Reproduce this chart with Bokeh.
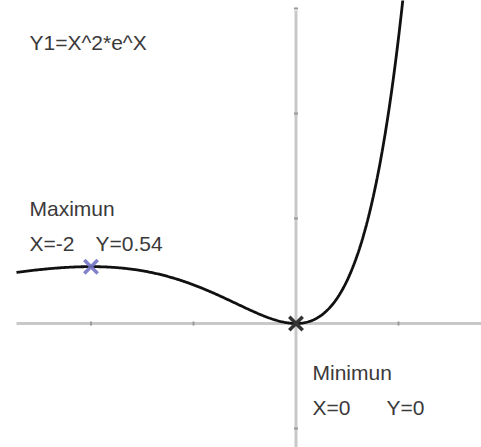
import numpy as np
from bokeh.plotting import figure
from bokeh.models import Range1d
from bokeh.core.properties import value
from bokeh.embed import file_html
from bokeh.resources import INLINE

# Y1 = X^2 * e^X, graphed over the calculator window
x_min, x_max = -2.727, 1.10
curve_x = np.linspace(x_min, x_max, 400)
curve_y = curve_x ** 2 * np.exp(curve_x)

# Extrema found on the graph
max_x, max_y = [-2.0], [0.54]
min_x, min_y = [0.0], [0.0]

# Tick marks along the axes
x_ticks = [-2, -1, 1]
y_ticks = [-1, 1, 2, 3]

title_text = "Y1=X^2*e^X"
max_labels = ["Maximun", "X=-2", "Y=0.54"]
min_labels = ["Minimun", "X=0", "Y=0"]

p = figure(width=481, height=447, output_backend="svg", toolbar_location=None,
           x_range=Range1d(-2.883, 1.810), y_range=Range1d(-1.181, 3.076),
           min_border=0, outline_line_color=None, background_fill_color="white",
           border_fill_color="white")
p.axis.visible = False
p.grid.visible = False

axis_color = "#c8c8c8"
# axes of the graph
p.segment(x0=[x_min], y0=[0], x1=[1.81], y1=[0], line_color=axis_color, line_width=3)
p.segment(x0=[0], y0=[-1.2], x1=[0], y1=[2.98], line_color=axis_color, line_width=3)
p.scatter(x_ticks, [0] * len(x_ticks), marker="dash", angle=np.pi / 2, size=4,
          line_color="#9a9a9a", line_width=2)
p.scatter([0] * len(y_ticks), y_ticks, marker="dash", size=4,
          line_color="#9a9a9a", line_width=2)

# function curve
p.line(curve_x, curve_y, line_color="#111111", line_width=2.8)

# extremum markers
p.scatter(max_x, max_y, marker="x", size=19, line_color="#7474c4", line_width=3.5, line_alpha=0.9)
p.scatter(min_x, min_y, marker="x", size=19, line_color="#333333", line_width=3.5)

font = value("Liberation Sans")
txt = dict(text_font=font, text_font_size="21px", text_color="#3a3a3a",
           text_baseline="alphabetic", text_align="left")
p.text(x=[-2.60], y=[2.676], text=[title_text], **txt)
p.text(x=[-2.60, -2.60, -1.956], y=[1.095, 0.762, 0.762], text=max_labels, **txt)
p.text(x=[0.161, 0.161, 0.883], y=[-0.467, -0.80, -0.80], text=min_labels, **txt)

open("out.html", "w").write(file_html(p, INLINE))
